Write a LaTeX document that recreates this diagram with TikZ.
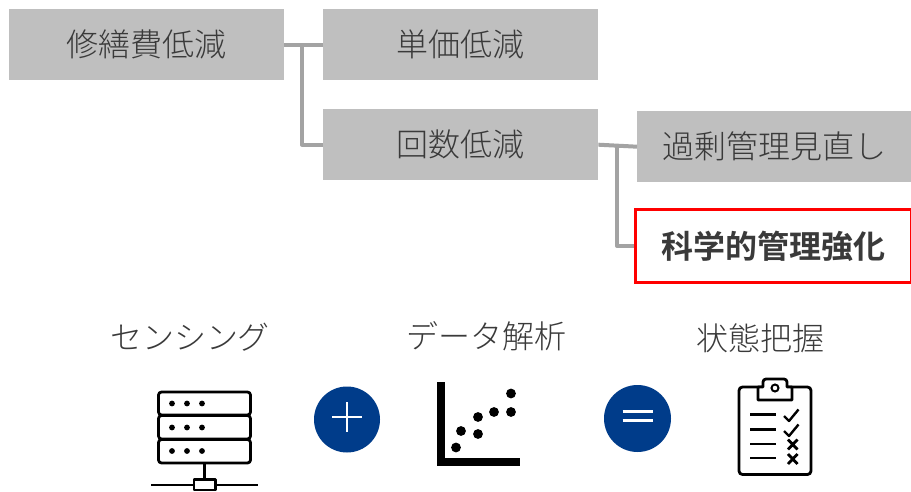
\documentclass[tikz,border=0pt]{standalone}
\usepackage{fontspec}
\newfontfamily\cjkl{Noto Sans CJK JP Light}
\newfontfamily\cjkb{Noto Sans CJK JP Bold}
\definecolor{boxgray}{HTML}{BFBFBF}
\definecolor{linegray}{HTML}{A3A3A3}
\definecolor{txt}{HTML}{3A3A3A}
\definecolor{navy}{HTML}{003C8A}
\tikzset{
  treebox/.style={anchor=north west,inner sep=0pt,minimum width=275pt,minimum height=71pt,fill=boxgray,text=txt,font=\cjkl\fontsize{32}{32}\selectfont},
  redbox/.style={treebox,anchor=center,fill=white,draw=red,line width=3.4pt,font=\cjkb\fontsize{32}{32}\selectfont},
  link/.style={draw=linegray,line width=4pt,line join=round},
  captext/.style={text=txt,inner sep=0pt,font=\cjkl\fontsize{32}{32}\selectfont},
  icon/.style={draw=black,line width=2.8pt,line join=round,fill=none},
  opcirc/.style={circle,fill=navy,minimum size=66pt,inner sep=0pt},
  opline/.style={draw=white,line width=2.7pt}
}
\begin{document}
\begin{tikzpicture}[x=1pt,y=-1pt]
\useasboundingbox (0,0) rectangle (911,492);
\fill[white] (0,0) rectangle (911,492);
\node[treebox] (a) at (9,9) {\raisebox{1pt}{修繕費低減}};
\node[treebox] (b) at (323,9) {\raisebox{1pt}{単価低減}};
\node[treebox] (c) at (323,109) {\raisebox{1pt}{回数低減}};
\node[treebox] (d) at (637,111) {過剰管理見直し};
\node[redbox,minimum width=276pt,minimum height=73.4pt] (e) at (773.2,246) {\raisebox{1pt}{科学的管理強化}};
\coordinate (j1) at (302,44);
\coordinate (j2) at (617,146);
\draw[link] (a.east) -- (b.west);
\draw[link] (j1) |- (c.west);
\draw[link] (c.east) -- (d.west);
\draw[link] (j2) |- (e.west);
\node[captext] (t1) at (190,337) {センシング};
\node[captext] (t2) at (486,336) {データ解析};
\node[captext] (t3) at (760,338) {状態把握};
% server
\draw[icon,rounded corners=3pt] (158.5,392) rectangle (250.5,415);
\draw[icon,rounded corners=3pt] (158.5,415.5) rectangle (250.5,439);
\draw[icon,rounded corners=3pt] (158.5,439.5) rectangle (250.5,463);
\foreach \y in {403.5,427.5,451} \foreach \x in {172,187,202} \fill (\x,\y) circle (2.9);
\draw[icon] (204.5,463) -- (204.5,479);
\draw[icon] (151,485) -- (194,485) (216,485) -- (258,485);
\draw[icon] (194,479.5) rectangle (215.5,490);
\node[opcirc] (plus) at (347,419.5) {};
\draw[opline] (plus.center) ++(-15,-2.5) -- ++(30,0);
\draw[opline] (plus.center) ++(0,-17.5) -- ++(0,30);
% scatter
\draw[draw=black,line width=8pt] (440.5,382) -- (440.5,462) -- (520,462);
\foreach \x/\y in {511/393.5,511/412,494/412,478/417,478/434,461/431,456/447.5} \fill (\x,\y) circle (4.9);
\node[opcirc,minimum size=67pt] (eq) at (637.5,418.5) {};
\draw[opline] (eq.center) ++(-15,-7) -- ++(30,0);
\draw[opline] (eq.center) ++(-15,2) -- ++(30,0);
% clipboard
\draw[icon,rounded corners=3.5pt] (739,387) rectangle (811,474.5);
\draw[icon,fill=white] (758,400) -- (758,387) -- (763,387) [rounded corners=3pt] -- (763,379) -- (787,379) [sharp corners] -- (787,387) -- (792,387) -- (792,400) -- cycle;
\draw[draw=black,line width=2pt] (775,388) circle (3.5);
\foreach \y in {414.5,429.5,444,458} \draw[icon] (750,\y) -- (776,\y);
\foreach \y in {414,429} \draw[icon,line width=2.4pt] (784,\y+2) -- (789,\y+7) -- (798.5,\y-4.5);
\foreach \y in {444.5,459} \draw[icon] (788,\y-5) -- (797.5,\y+5) (797.5,\y-5) -- (788,\y+5);
\end{tikzpicture}
\end{document}
